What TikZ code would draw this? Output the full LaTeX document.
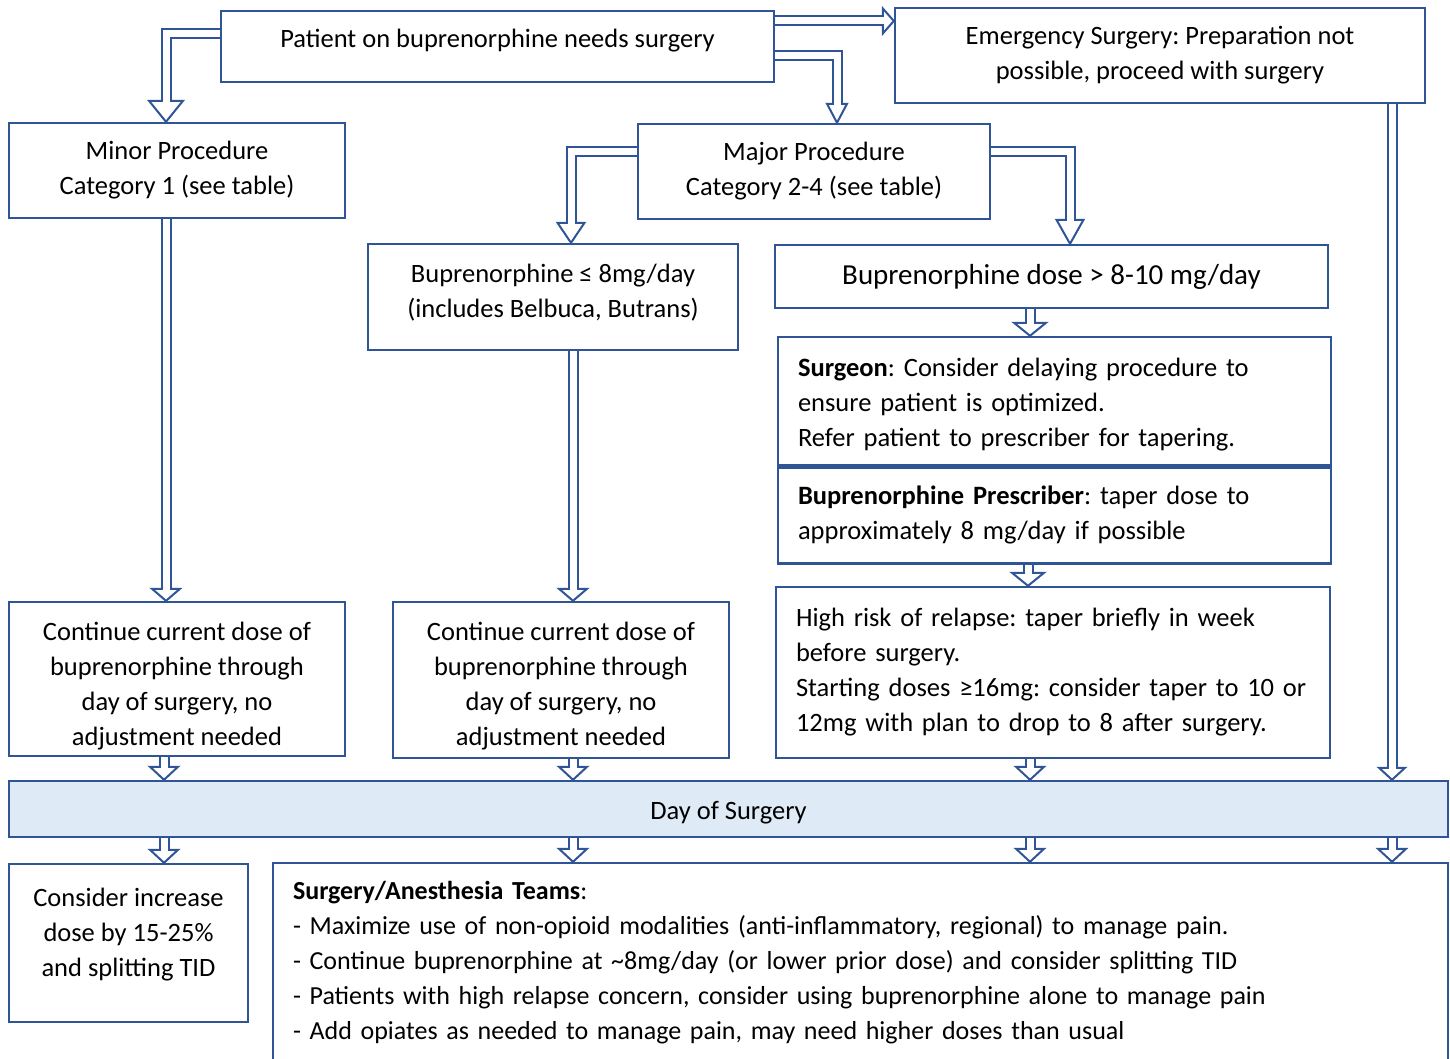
\documentclass[tikz,border=0pt]{standalone}
\usepackage{fontspec}
\setmainfont{Carlito}
\frenchspacing
\usetikzlibrary{positioning, calc, backgrounds}
\definecolor{boxblue}{RGB}{47,85,151}
\definecolor{dayfill}{RGB}{222,235,247}
% invisible struts that push the text up or down in its box
\newcommand{\lowpad}[1]{\rule[-#1]{0pt}{#1}}
\newcommand{\highpad}[1]{\rule{0pt}{#1}}
\tikzset{
    % boxes with centred text
    punkt/.style={
           rectangle,
           draw=boxblue, line width=2.4pt,
           align=center,
           inner sep=0pt,
           font=\fontsize{26.5}{35}\selectfont},
    % boxes with text flush left
    notebox/.style={
           punkt,
           align=left,
           inner xsep=20pt},
    % hollow arrow shaft
    shaft/.style={
           draw=boxblue, line width=2pt,
           double=white, double distance=7pt},
    % hollow arrow head
    tiphead/.style={
           draw=boxblue, fill=white, line width=2pt, line join=miter},
    pics/headdown/.style 2 args={code={
           \filldraw[tiphead] (-#1,-#2) -- (0,0) -- (#1,-#2) -- cycle;}},
    pics/headright/.style 2 args={code={
           \filldraw[tiphead] (-#2,-#1) -- (0,0) -- (-#2,#1) -- cycle;}}
}
\begin{document}
\begin{tikzpicture}[x=1pt, y=-1pt]
	\useasboundingbox (0,0) rectangle (1450,1059);
	%
	% noeuds
	%
	\node[punkt, minimum width=553pt, minimum height=71pt] (patient) at (497.5,46.5)
		{Patient on buprenorphine needs surgery\lowpad{16pt}};
	\node[punkt, minimum width=530pt, minimum height=95pt] (emerg) at (1160,55.5)
		{Emergency Surgery: Preparation not\\possible, proceed with surgery};
	\node[punkt, minimum width=336pt, minimum height=95pt] (minor) at (177,170.5)
		{Minor Procedure\\Category 1 (see table)};
	\node[punkt, minimum width=352pt, minimum height=95pt] (major) at (814,171.5)
		{Major Procedure\\Category 2-4 (see table)};
	\node[punkt, minimum width=370pt, minimum height=106pt] (lowdose) at (553,297)
		{Buprenorphine ≤ 8mg/day\\(includes Belbuca, Butrans)\lowpad{12pt}};
	\node[punkt, minimum width=553pt, minimum height=63pt, font=\fontsize{29}{35}\selectfont] (highdose) at (1051.5,276.5)
		{Buprenorphine dose > 8-10 mg/day};
	\node[notebox, text width=513pt, minimum height=128pt] (surgeon) at (1054.5,401)
		{\highpad{25pt}\textbf{Surgeon}: Consider delaying procedure to\\ensure patient is optimized.\\Refer patient to prescriber for tapering.};
	\node[notebox, text width=513pt, minimum height=96pt, below=0pt of surgeon] (prescr)
		{\textbf{Buprenorphine Prescriber}: taper dose to\\approximately 8 mg/day if possible};
	\node[notebox, text width=514pt, minimum height=171pt] (relapse) at (1053,672.5)
		{High risk of relapse: taper briefly in week\\before surgery.\\Starting doses ≥16mg: consider taper to 10 or\\12mg with plan to drop to 8 after surgery.};
	\node[punkt, minimum width=336pt, minimum height=154pt] (contA) at (177,679)
		{\highpad{33pt}Continue current dose of\\buprenorphine through\\day of surgery, no\\adjustment needed};
	\node[punkt, minimum width=336pt, minimum height=156pt] (contB) at (561,680)
		{\highpad{31pt}Continue current dose of\\buprenorphine through\\day of surgery, no\\adjustment needed};
	\node[punkt, fill=dayfill, minimum width=1439pt, minimum height=56pt] (day) at (728.5,809)
		{\highpad{25pt}Day of Surgery};
	\node[punkt, minimum width=239pt, minimum height=158pt] (increase) at (128.5,943)
		{Consider increase\\dose by 15-25\%\\and splitting TID\lowpad{22pt}};
	\node[notebox, text width=1135pt, minimum height=199pt, font=\fontsize{26}{35}\selectfont] (teams) at (860.5,962.5)
		{\textbf{Surgery/Anesthesia Teams}:\\
		- Maximize use of non-opioid modalities (anti-inflammatory, regional) to manage pain.\\
		- Continue buprenorphine at \textasciitilde8mg/day (or lower prior dose) and consider splitting TID\\
		- Patients with high relapse concern, consider using buprenorphine alone to manage pain\\
		- Add opiates as needed to manage pain, may need higher doses than usual};
	%
	% Liens
	%
	\begin{scope}[on background layer]
	\pic at (166,0 |- minor.north) {headdown={17}{21}};
	\draw[shaft] (patient.west |- 0,34) -| ($(166,0 |- minor.north)+(0,-19.5)$);
	\pic at (emerg.west |- 0,21) {headright={12.5}{11}};
	\draw[shaft] (patient.east |- 0,21) -- ($(emerg.west |- 0,21)+(-9.5,0)$);
	\pic at (837,0 |- major.north) {headdown={10}{19}};
	\draw[shaft] (patient.east |- 0,56) -| ($(837,0 |- major.north)+(0,-17.5)$);
	\pic at (571,0 |- lowdose.north) {headdown={13.5}{20}};
	\draw[shaft] (major.west |- 0,152) -| ($(571,0 |- lowdose.north)+(0,-18.5)$);
	\pic at (1070,0 |- highdose.north) {headdown={13.5}{24}};
	\draw[shaft] (major.east |- 0,152) -| ($(1070,0 |- highdose.north)+(0,-22.5)$);
	% straight drops
	\pic at (166,0 |- contA.north) {headdown={14}{12}};
	\draw[shaft] (minor.south -| 166,0) -- ($(166,0 |- contA.north)+(0,-10.5)$);
	\pic at (573,0 |- contB.north) {headdown={14}{12}};
	\draw[shaft] (lowdose.south -| 573,0) -- ($(573,0 |- contB.north)+(0,-10.5)$);
	\pic at (1030,0 |- surgeon.north) {headdown={16}{13}};
	\draw[shaft] (highdose.south -| 1030,0) -- ($(1030,0 |- surgeon.north)+(0,-11.5)$);
	\pic at (1028,0 |- relapse.north) {headdown={16}{13}};
	\draw[shaft] (prescr.south -| 1028,0) -- ($(1028,0 |- relapse.north)+(0,-11.5)$);
	\pic at (1392,0 |- day.north) {headdown={13}{12}};
	\draw[shaft] (emerg.south -| 1392,0) -- ($(1392,0 |- day.north)+(0,-10.5)$);
	% into day of surgery
	\pic at (164,0 |- day.north) {headdown={14}{13}};
	\draw[shaft] (contA.south -| 164,0) -- ($(164,0 |- day.north)+(0,-11.5)$);
	\pic at (573,0 |- day.north) {headdown={14}{13}};
	\draw[shaft] (contB.south -| 573,0) -- ($(573,0 |- day.north)+(0,-11.5)$);
	\pic at (1030,0 |- day.north) {headdown={14}{13}};
	\draw[shaft] (relapse.south -| 1030,0) -- ($(1030,0 |- day.north)+(0,-11.5)$);
	% out of day of surgery
	\pic at (164,0 |- increase.north) {headdown={14}{13}};
	\draw[shaft] (day.south -| 164,0) -- ($(164,0 |- increase.north)+(0,-11.5)$);
	\pic at (573,0 |- teams.north) {headdown={14}{13}};
	\draw[shaft] (day.south -| 573,0) -- ($(573,0 |- teams.north)+(0,-11.5)$);
	\pic at (1030,0 |- teams.north) {headdown={14}{13}};
	\draw[shaft] (day.south -| 1030,0) -- ($(1030,0 |- teams.north)+(0,-11.5)$);
	\pic at (1392,0 |- teams.north) {headdown={14}{13}};
	\draw[shaft] (day.south -| 1392,0) -- ($(1392,0 |- teams.north)+(0,-11.5)$);
	\end{scope}
\end{tikzpicture}
\end{document}
